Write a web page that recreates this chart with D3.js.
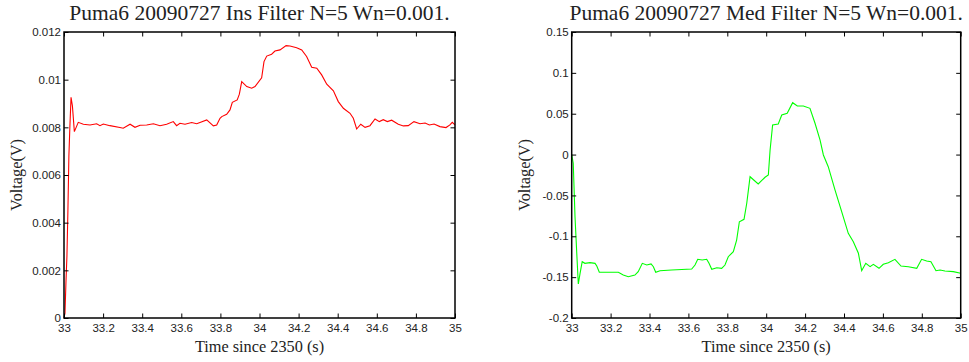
<!DOCTYPE html>
<html>
<head>
<meta charset="utf-8">
<script src="https://cdn.jsdelivr.net/npm/d3@7"></script>
<style>
  body { margin: 0; background: #fff; }
  .tick text { font-family: Arial, "Liberation Sans", sans-serif; font-size: 11.5px; fill: #222; }
  .title { font-family: "Times New Roman", "Liberation Serif", serif; font-size: 21.5px; fill: #222; }
  .lbl { font-family: "Times New Roman", "Liberation Serif", serif; font-size: 16.3px; fill: #222; }
</style>
</head>
<body>
<div id="chart"></div>
<script>
// Eje de tiempo comun
const xTicks = [33, 33.2, 33.4, 33.6, 33.8, 34, 34.2, 34.4, 34.6, 34.8, 35];
const xTickLabels = ["33", "33.2", "33.4", "33.6", "33.8", "34", "34.2", "34.4", "34.6", "34.8", "35"];

// Panel izquierdo: Ins Filter
const insTime = [33.000, 33.005, 33.010, 33.015, 33.020, 33.025, 33.030, 33.036, 33.043, 33.053,
  33.073, 33.099, 33.133, 33.167, 33.184, 33.201, 33.235, 33.286, 33.303, 33.338,
  33.363, 33.389, 33.423, 33.457, 33.491, 33.525, 33.559, 33.576, 33.593, 33.619,
  33.653, 33.679, 33.730, 33.764, 33.781, 33.798, 33.807, 33.832, 33.849, 33.861,
  33.886, 33.897, 33.909, 33.935, 33.960, 33.977, 34.011, 34.023, 34.037, 34.062,
  34.079, 34.105, 34.136, 34.156, 34.190, 34.216, 34.241, 34.267, 34.293, 34.318,
  34.344, 34.378, 34.403, 34.429, 34.463, 34.480, 34.497, 34.518, 34.540, 34.565,
  34.591, 34.613, 34.633, 34.654, 34.676, 34.710, 34.736, 34.761, 34.790, 34.821,
  34.847, 34.869, 34.893, 34.923, 34.954, 34.974, 34.986, 35.000];
const insVolt = [0.00000, 0.00020, 0.00150, 0.00260, 0.00450, 0.00680, 0.00800, 0.00926, 0.00890, 0.00782,
  0.00821, 0.00813, 0.00810, 0.00815, 0.00807, 0.00814, 0.00807, 0.00799, 0.00796, 0.00813,
  0.00800, 0.00809, 0.00810, 0.00815, 0.00807, 0.00813, 0.00824, 0.00807, 0.00817, 0.00813,
  0.00820, 0.00815, 0.00831, 0.00806, 0.00810, 0.00838, 0.00845, 0.00855, 0.00873, 0.00905,
  0.00915, 0.00939, 0.00992, 0.00971, 0.00964, 0.00971, 0.01008, 0.01076, 0.01099, 0.01107,
  0.01120, 0.01125, 0.01143, 0.01141, 0.01134, 0.01125, 0.01097, 0.01052, 0.01048, 0.01020,
  0.00981, 0.00953, 0.00908, 0.00880, 0.00859, 0.00838, 0.00793, 0.00813, 0.00800, 0.00807,
  0.00835, 0.00824, 0.00832, 0.00824, 0.00830, 0.00813, 0.00806, 0.00807, 0.00824, 0.00815,
  0.00818, 0.00810, 0.00814, 0.00803, 0.00799, 0.00810, 0.00821, 0.00810];
const insYTicks = [0, 0.002, 0.004, 0.006, 0.008, 0.01, 0.012];
const insYLabels = ["0", "0.002", "0.004", "0.006", "0.008", "0.01", "0.012"];

// Panel derecho: Med Filter
const medTime = [33.000, 33.008, 33.017, 33.026, 33.034, 33.043, 33.054, 33.068, 33.094, 33.120,
  33.129, 33.142, 33.188, 33.240, 33.265, 33.291, 33.325, 33.342, 33.363, 33.386,
  33.408, 33.420, 33.432, 33.454, 33.514, 33.617, 33.634, 33.648, 33.671, 33.694,
  33.706, 33.720, 33.746, 33.771, 33.788, 33.805, 33.831, 33.848, 33.862, 33.886,
  33.900, 33.917, 33.959, 33.994, 34.011, 34.020, 34.033, 34.062, 34.080, 34.108,
  34.136, 34.160, 34.191, 34.225, 34.251, 34.277, 34.294, 34.319, 34.354, 34.388,
  34.422, 34.448, 34.474, 34.491, 34.512, 34.534, 34.551, 34.580, 34.602, 34.628,
  34.662, 34.693, 34.731, 34.774, 34.799, 34.825, 34.847, 34.873, 34.894, 34.919,
  34.962, 35.000];
const medVolt = [0.0000, -0.0107, -0.0760, -0.1208, -0.1584, -0.1453, -0.1311, -0.1331, -0.1323, -0.1331,
  -0.1364, -0.1441, -0.1441, -0.1441, -0.1474, -0.1495, -0.1474, -0.1434, -0.1331, -0.1352,
  -0.1339, -0.1372, -0.1441, -0.1421, -0.1413, -0.1401, -0.1352, -0.1282, -0.1290, -0.1282,
  -0.1331, -0.1404, -0.1385, -0.1392, -0.1352, -0.1250, -0.1189, -0.1046, -0.0822, -0.0792,
  -0.0596, -0.0271, -0.0360, -0.0278, -0.0250, 0.0056, 0.0362, 0.0374, 0.0484, 0.0505,
  0.0635, 0.0594, 0.0594, 0.0566, 0.0383, 0.0178, -0.0005, -0.0148, -0.0434, -0.0699,
  -0.0964, -0.1066, -0.1208, -0.1421, -0.1331, -0.1372, -0.1343, -0.1392, -0.1343, -0.1323,
  -0.1282, -0.1364, -0.1372, -0.1392, -0.1282, -0.1303, -0.1311, -0.1421, -0.1413, -0.1425,
  -0.1433, -0.1453];
const medYTicks = [-0.2, -0.15, -0.1, -0.05, 0, 0.05, 0.1, 0.15];
const medYLabels = ["-0.2", "-0.15", "-0.1", "-0.05", "0", "0.05", "0.1", "0.15"];

const W = 969, H = 362;
const svg = d3.select("#chart").append("svg")
  .attr("width", W).attr("height", H);

const panels = [
  { title: "Puma6 20090727 Ins Filter N=5 Wn=0.001.", left: 64, width: 391,
    time: insTime, volt: insVolt, yTicks: insYTicks, yLabels: insYLabels, color: "#ff0000" },
  { title: "Puma6 20090727 Med Filter N=5 Wn=0.001.", left: 571.7, width: 389,
    time: medTime, volt: medVolt, yTicks: medYTicks, yLabels: medYLabels, color: "#00ff00" }
];
const plotTop = 32, ph = 286;

panels.forEach(p => {
  const g = svg.append("g").attr("transform", `translate(${p.left},${plotTop})`);

  const x = d3.scaleLinear().domain([33, 35]).range([0, p.width]);
  const y = d3.scaleLinear()
    .domain([p.yTicks[0], p.yTicks[p.yTicks.length - 1]])
    .range([ph, 0]);

  // Curva
  const pts = p.time.map((t, i) => [t, p.volt[i]]);
  g.append("path")
    .datum(pts)
    .attr("fill", "none")
    .attr("stroke", p.color)
    .attr("stroke-width", 1.1)
    .attr("d", d3.line().x(d => x(d[0])).y(d => y(d[1])));

  // Ejes con marcas hacia dentro (estilo MATLAB)
  const xb = g.append("g").attr("transform", `translate(0,${ph})`)
    .call(d3.axisBottom(x).tickValues(xTicks).tickFormat((d, i) => xTickLabels[i])
      .tickSizeInner(-4.5).tickSizeOuter(0).tickPadding(6));
  const xt = g.append("g")
    .call(d3.axisTop(x).tickValues(xTicks).tickFormat("")
      .tickSizeInner(-4.5).tickSizeOuter(0));
  const yl = g.append("g")
    .call(d3.axisLeft(y).tickValues(p.yTicks).tickFormat((d, i) => p.yLabels[i])
      .tickSizeInner(-4.5).tickSizeOuter(0).tickPadding(3));
  const yr = g.append("g").attr("transform", `translate(${p.width},0)`)
    .call(d3.axisRight(y).tickValues(p.yTicks).tickFormat("")
      .tickSizeInner(-4.5).tickSizeOuter(0));
  [xb, xt, yl, yr].forEach(a => a.select(".domain").remove());

  // Marco
  g.append("rect")
    .attr("width", p.width).attr("height", ph)
    .attr("fill", "none").attr("stroke", "#000").attr("stroke-width", 1.5);

  // Titulos
  g.append("text").attr("class", "title")
    .attr("x", p.width / 2).attr("y", -12)
    .attr("text-anchor", "middle").text(p.title);

  g.append("text").attr("class", "lbl")
    .attr("x", p.width / 2).attr("y", ph + 34)
    .attr("text-anchor", "middle").text("Time since 2350 (s)");

  g.append("text").attr("class", "lbl")
    .attr("transform", "rotate(-90)")
    .attr("x", -ph / 2).attr("y", -42)
    .attr("text-anchor", "middle").text("Voltage(V)");
});
</script>
</body>
</html>
